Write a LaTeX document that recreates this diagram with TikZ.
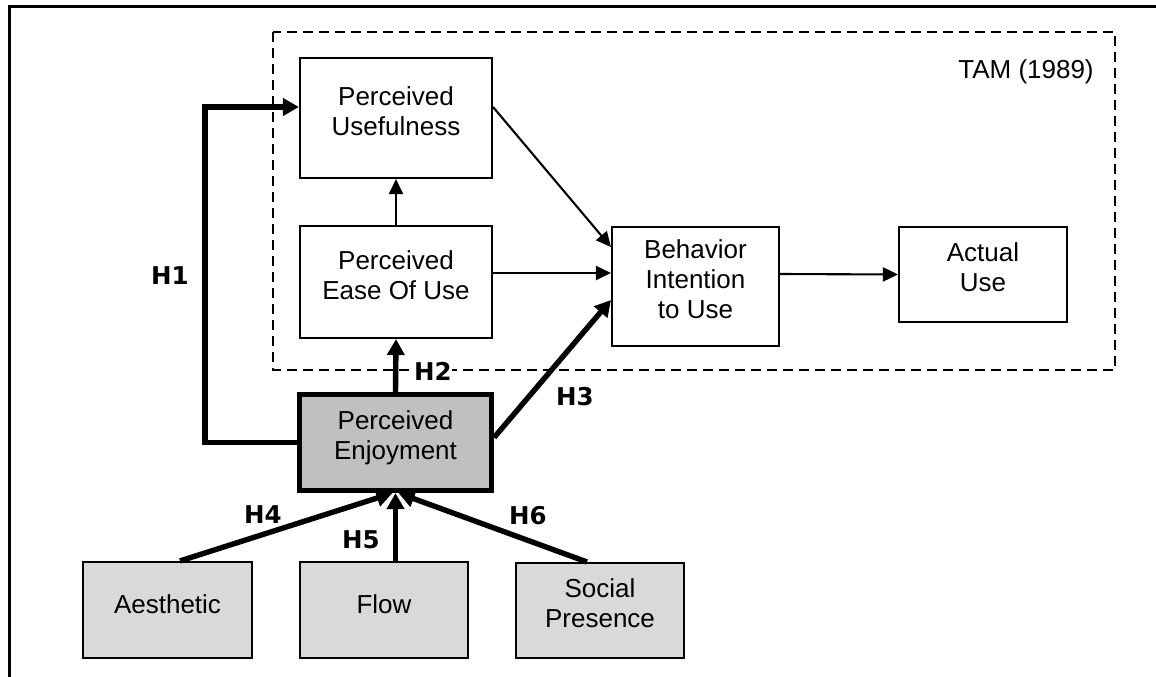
\documentclass[tikz,border=0pt]{standalone}
\usepackage{fontspec}
\setmainfont{Liberation Sans}
\newfontfamily\hfont{DejaVu Sans}
\usetikzlibrary{arrows.meta}
\definecolor{pegray}{HTML}{C0C0C0}
\definecolor{lightg}{HTML}{D9D9D9}
\begin{document}
\begin{tikzpicture}[x=1pt,y=-1pt,
  box/.style={draw, line width=2.1pt, align=center, inner sep=0pt,
    font=\fontsize{26}{30}\selectfont,
    execute at begin node={\rule{0pt}{21pt}},
    execute at end node={\rule[-14pt]{0pt}{0pt}}},
  enjbox/.style={box, line width=5.2pt, fill=pegray},
  srcbox/.style={box, fill=lightg},
  thinarrow/.style={line width=2.1pt, -{Triangle[length=15pt,width=14pt]}},
  thickarrow/.style={line width=5.4pt, line join=miter, -{Triangle[length=16pt,width=17pt]}},
  hlabel/.style={font=\hfont\bfseries\fontsize{24.5}{28}\selectfont, inner sep=0.5pt},
  tambox/.style={draw, line width=2.8pt, dash pattern=on 10pt off 6pt},
  frame/.style={line width=3pt}
]
\useasboundingbox (0,0) rectangle (1156,677);
% outer frame (top and left only)
\draw[frame] (9,677) -- (9,7) -- (1156,7);
% TAM dashed region
\draw[tambox] (273,32) rectangle (1115,370);
\node[font=\fontsize{26}{30}\selectfont, inner sep=0pt] (tam) at (1026,72) {TAM (1989)};
% boxes
\node[box, minimum width=192pt, minimum height=120pt] (pu) at (396,118) {Perceived\\Usefulness};
\node[box, minimum width=192pt, minimum height=112pt] (peou) at (396,282) {Perceived\\Ease Of Use};
\node[box, minimum width=167pt, minimum height=119pt] (bi) at (695.5,286.5) {Behavior\\Intention\\to Use};
\node[box, minimum width=168pt, minimum height=95pt] (au) at (983,274.5) {Actual\\Use};
\node[enjbox, minimum width=192pt, minimum height=96pt] (pe) at (395.5,442.5) {Perceived\\Enjoyment};
\node[srcbox, minimum width=169pt, minimum height=96pt] (ae) at (167.5,610) {Aesthetic};
\node[srcbox, minimum width=168pt, minimum height=96pt] (fl) at (384,610) {Flow};
\node[srcbox, minimum width=168pt, minimum height=95pt] (sp) at (600,610.5) {Social\\Presence};
% TAM connectors
\draw[thinarrow] (peou.north) -- (pu.south);
\draw[thinarrow] ([yshift=11pt]pu.east) -- ([yshift=39.5pt]bi.west);
\draw[thinarrow] ([yshift=9pt]peou.east) -- ([yshift=13.5pt]bi.west);
\draw[thinarrow] ([yshift=12.5pt]bi.east) -- (au.west);
% hypotheses
\coordinate (h1corner) at (205,107);
\draw[thickarrow] (pe.west) -| (h1corner) -- ([yshift=11pt]pu.west);
\draw[thickarrow] (pe.north) -- (peou.south);
\draw[thickarrow] ([yshift=5pt]pe.east) -- ([yshift=-13.5pt]bi.west);
\draw[thickarrow] ([xshift=12.5pt]ae.north) -- ([xshift=-3pt]pe.south);
\draw[thickarrow] (fl.north -| pe.south) -- (pe.south);
\draw[thickarrow] ([xshift=-13pt]sp.north) -- ([xshift=3pt]pe.south);
% labels
\node[hlabel] (l1) at (170,276) {H1};
\node[hlabel, fill=white] (l2) at (433,371) {H2};
\node[hlabel] (l3) at (575,397) {H3};
\node[hlabel] (l4) at (263,515) {H4};
\node[hlabel] (l5) at (361,540) {H5};
\node[hlabel] (l6) at (528,516) {H6};
\end{tikzpicture}
\end{document}
